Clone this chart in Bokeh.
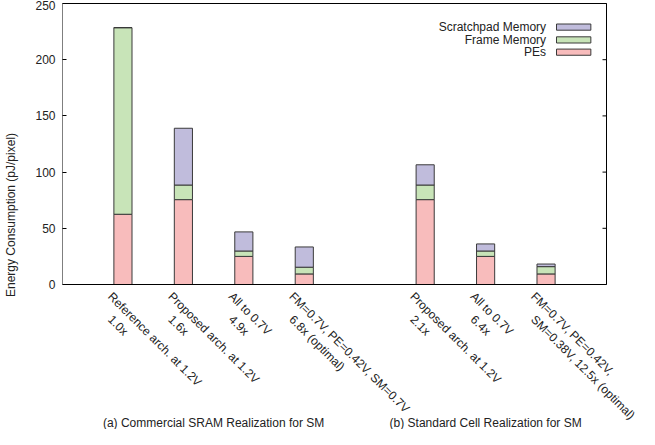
import math
from bokeh.plotting import figure
from bokeh.models import ColumnDataSource, LabelSet, Label, FixedTicker
from bokeh.core.properties import value
from bokeh.embed import file_html
from bokeh.resources import INLINE

# ---- data ----
positions = [1, 2, 3, 4, 6, 7, 8]
label_line1 = ["Reference arch. at 1.2V", "Proposed arch. at 1.2V", "All to 0.7V",
               "FM=0.7V, PE=0.42V, SM=0.7V", "Proposed arch. at 1.2V", "All to 0.7V",
               "FM=0.7V, PE=0.42V,"]
label_line2 = ["1.0x", "1.6x", "4.9x", "6.8x (optimal)", "2.1x", "6.4x",
               "SM=0.38V, 12.5x (optimal)"]
pes = [62.5, 75.5, 25.0, 9.4, 75.5, 25.0, 9.4]
frame_mem = [166.0, 13.0, 4.8, 6.0, 13.0, 4.8, 6.5]
scratchpad = [0.0, 50.5, 17.0, 18.0, 18.0, 6.3, 2.3]
series_names = ["PEs", "Frame Memory", "Scratchpad Memory"]
series_colors = ["#f8bcbc", "#c8e4b8", "#c0bcdc"]
captions = ["(a) Commercial SRAM Realization for SM", "(b) Standard Cell Realization for SM"]
caption_x = [2.5, 7.0]
y_ticks = [0, 50, 100, 150, 200, 250]
x_lo, x_hi = 0, 9
y_lo, y_hi = 0, 250

# ---- layout (pixels) ----
W, H = 639, 429
box_left, box_right, box_top, box_bottom = 62, 606, 3, 284
px_x = (box_right - box_left) / (x_hi - x_lo)
px_y = (box_bottom - box_top) / (y_hi - y_lo)
xr = (x_lo, x_lo + (W - box_left) / px_x)
yr = (y_lo - (H - box_bottom) / px_y, y_hi + box_top / px_y)

FONT = "Liberation Sans"
TXT = "#222222"

p = figure(width=W, height=H, x_range=xr, y_range=yr,
           output_backend="svg", toolbar_location=None, x_axis_location=None,
           min_border_left=box_left, min_border_right=0, min_border_top=0,
           min_border_bottom=0)
p.xgrid.visible = False
p.ygrid.visible = False
p.outline_line_color = None
p.background_fill_color = "white"

src = ColumnDataSource(dict(x=positions, pe=pes, fm=frame_mem, sm=scratchpad,
                            l1=label_line1, l2=label_line2, y0=[0] * len(positions)))
p.vbar_stack(["pe", "fm", "sm"], x="x", width=0.3, color=series_colors,
             line_color="#3a3a3a", line_width=1, source=src)

# plot box
p.quad(left=[x_lo], right=[x_hi], bottom=[y_lo], top=[y_hi], fill_color=None,
       line_color="black", line_width=1)
# right-side inward ticks
p.segment(x0=[x_hi] * len(y_ticks), x1=[x_hi - 4 / px_x] * len(y_ticks),
          y0=y_ticks, y1=y_ticks, line_color="black", line_width=1)

# y axis
ya = p.yaxis[0]
ya.ticker = FixedTicker(ticks=y_ticks)
ya.axis_label = "Energy Consumption (pJ/pixel)"
ya.axis_label_text_font = FONT
ya.axis_label_text_font_size = "12px"
ya.axis_label_text_font_style = "normal"
ya.axis_label_text_color = TXT
ya.axis_label_standoff = 14
ya.major_label_text_font = FONT
ya.major_label_text_font_size = "12px"
ya.major_label_text_color = TXT
ya.major_label_standoff = 7
ya.major_tick_in = 4
ya.major_tick_out = 0
ya.minor_tick_in = 0
ya.minor_tick_out = 0
ya.axis_line_color = None
ya.major_tick_line_color = "black"

# rotated category labels
ang = -math.pi / 4
lab1 = LabelSet(x="x", y="y0", text="l1", source=src, angle=ang,
                x_offset=-8, y_offset=-5, text_align="left", text_baseline="top",
                text_font=value(FONT), text_font_size="12px", text_color=TXT)
lab2 = LabelSet(x="x", y="y0", text="l2", source=src, angle=ang,
                x_offset=-8, y_offset=-28, text_align="left", text_baseline="top",
                text_font=value(FONT), text_font_size="12px", text_color=TXT)
p.add_layout(lab1)
p.add_layout(lab2)

for cx, ct in zip(caption_x, captions):
    p.add_layout(Label(x=cx, y=0, text=ct, y_offset=-138, text_align="center",
                       text_baseline="middle", text_font=FONT, text_font_size="12px",
                       text_color=TXT))

# legend (text right-aligned, swatch on the right)
leg_rows_y = [206.7, 217.6, 229.0]
leg_src = ColumnDataSource(dict(x=[8.457] * 3, y=leg_rows_y, name=series_names,
                                color=series_colors, tx=[8.0] * 3))
p.rect(x="x", y="y", width=0.568, height=5.5, fill_color="color",
       line_color="#3a3a3a", line_width=1, source=leg_src)
p.text(x="tx", y="y", text="name", text_align="right", text_baseline="middle",
       text_font=value(FONT), text_font_size="12px", text_color=TXT, source=leg_src)

open("out.html", "w").write(file_html(p, INLINE))
